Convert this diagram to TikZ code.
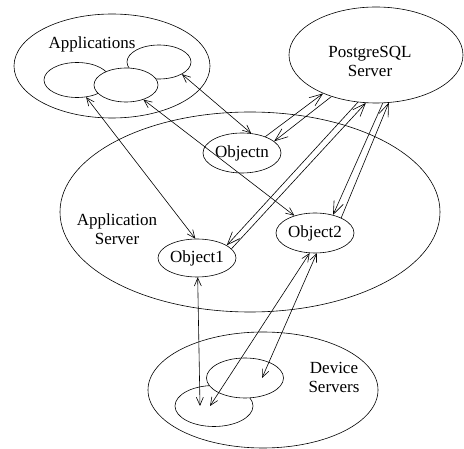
\documentclass[tikz,border=0pt]{standalone}
\usepackage{fontspec}
\setmainfont{Liberation Serif}
\usetikzlibrary{shapes.geometric,arrows.meta}
\begin{document}
\begin{tikzpicture}[x=1pt,y=-1pt,
  every node/.style={font=\fontsize{17}{19}\selectfont},
  oval/.style={draw, ellipse, line width=0.6pt, inner sep=0pt},
  lbl/.style={align=center, inner sep=0pt},
  link/.style={line width=0.6pt, {Straight Barb[length=8pt,width=7pt]}-{Straight Barb[length=8pt,width=7pt]}},
  onearrow/.style={line width=0.6pt, -{Straight Barb[length=13pt,width=10pt]}}
]
\useasboundingbox (0,0) rectangle (464,449);
% Applications
\node[oval, minimum width=196pt, minimum height=104pt] (apps) at (112,66) {};
\node[oval, minimum width=66pt, minimum height=35pt] (a1) at (77,80) {};
\node[oval, minimum width=64pt, minimum height=34pt] (a3) at (159,62) {};
\node[oval, fill=white, minimum width=64pt, minimum height=34pt] (a2) at (126,85) {};
\node[lbl, anchor=base] (appslbl) at (92,49) {Applications};
% PostgreSQL
\node[oval, minimum width=174pt, minimum height=96pt] (pg) at (376,55) {};
\node[lbl] (pglbl) at (370,61) {PostgreSQL\\Server};
% Application server
\node[oval, minimum width=380pt, minimum height=200pt] (srv) at (250,212) {};
\node[lbl] (srvlbl) at (117,229) {Application\\Server};
\node[oval, minimum width=78pt, minimum height=40pt] (objn) at (242,153) {Objectn};
\node[oval, minimum width=78pt, minimum height=38pt] (obj1) at (197,258) {Object1};
\node[oval, minimum width=78pt, minimum height=40pt] (obj2) at (315,233) {Object2};
% Device servers
\node[oval, minimum width=230pt, minimum height=116pt] (dev) at (263,390) {};
\node[oval, minimum width=78pt, minimum height=41pt] (d1) at (214,406) {};
\node[oval, fill=white, minimum width=77pt, minimum height=40pt] (d2) at (245,378) {};
\node[lbl] (devlbl) at (334,377) {Device\\Servers};
% connectors
\draw[link] (a3.-28) -- (objn.65);
\draw[link] (a1.-62) -- (obj1.95);
\draw[link] (a2.-40) -- (obj2.140);
\draw[onearrow] (objn.35) -- (pg.-144);
\draw[onearrow] (pg.-137) -- (objn.20);
\draw[onearrow] (pg.-111) -- (obj1.23);
\draw[onearrow] (obj1.15) -- (pg.-102);
\draw[onearrow] (pg.-82) -- (obj2.45);
\draw[onearrow] (obj2.30) -- (pg.-75);
\draw[link] (obj1.-88) -- ([xshift=-14pt]d1.center);
\draw[link] (obj2.-105) -- ([xshift=-4pt]d1.center);
\draw[link] (obj2.-85) -- ([xshift=17pt]d2.center);
\end{tikzpicture}
\end{document}
